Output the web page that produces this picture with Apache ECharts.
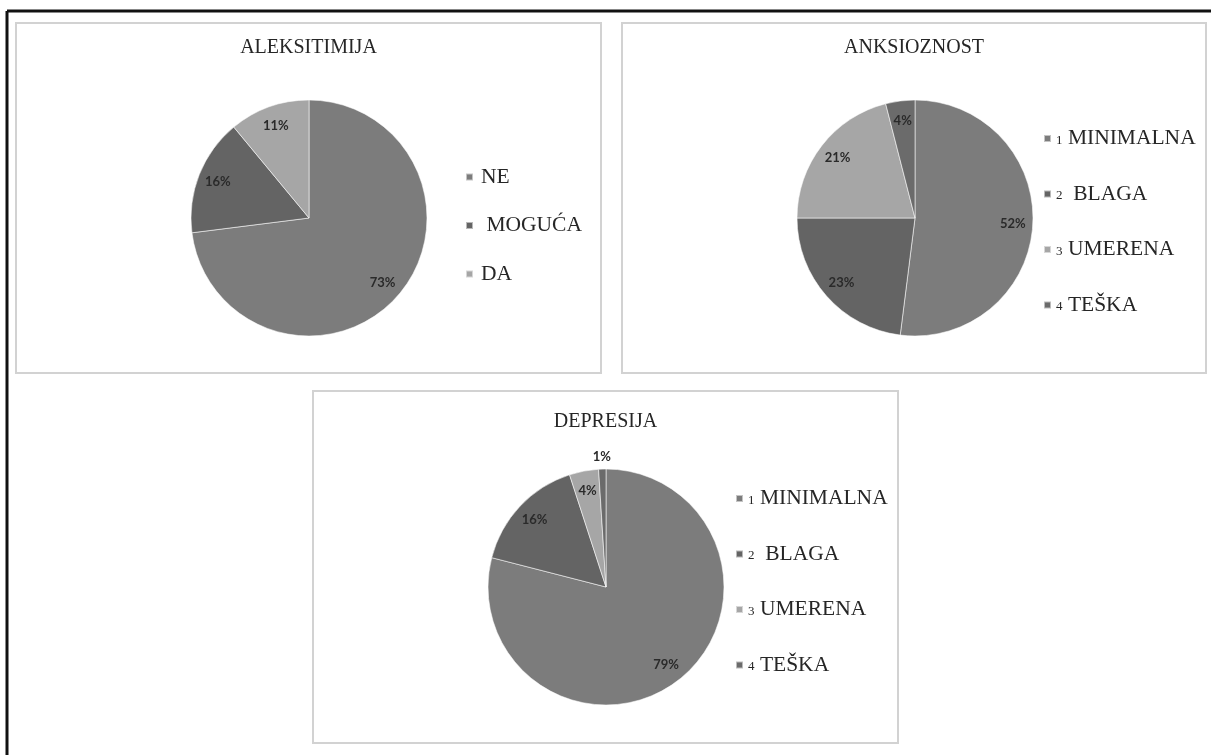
<!DOCTYPE html>
<html>
<head>
<meta charset="utf-8">
<script src="https://cdn.jsdelivr.net/npm/echarts@6/dist/echarts.min.js"></script>
<style>
  html, body { margin: 0; padding: 0; background: #ffffff; }
  #chart { width: 1211px; height: 755px; }
</style>
</head>
<body>
<div id="chart"></div>
<script>
// Chart titles
const chartTitles = ['ALEKSITIMIJA', 'ANKSIOZNOST', 'DEPRESIJA'];

// Alexithymia shares (%)
const aleksCategories = ['NE', ' MOGUĆA', 'DA'];
const aleksValues = [73, 16, 11];

// Severity levels shared by anxiety and depression
const severityCategories = ['1 MINIMALNA', '2  BLAGA', '3 UMERENA', '4 TEŠKA'];
const anksValues = [52, 23, 21, 4];
const depresValues = [79, 16, 4, 1];

// Slice colours
const aleksColors = ['#7c7c7c', '#646464', '#a6a6a6'];
const severityColors = ['#7c7c7c', '#646464', '#a6a6a6', '#6b6b6b'];

const SERIF = '"Liberation Serif", "DejaVu Serif", serif';
const LABEL_FONT = 'Lato, "Open Sans", sans-serif';
const TEXT_COLOR = '#262626';
const LEGEND_SIZE = 21.5;
const PIE_R = 118;
const LABEL_R = 190;          // labels sit at half of this radius
const SMALL_SHARE = 2;        // slices below this get their label outside

const panels = [
  { title: chartTitles[0], cats: aleksCategories, vals: aleksValues, colors: aleksColors,
    box: [16, 23, 585, 350], center: [309, 218], titleTop: 38,
    legend: { left: 465, top: 166, gap: 26.5, rich: false } },
  { title: chartTitles[1], cats: severityCategories, vals: anksValues, colors: severityColors,
    box: [622, 23, 584, 350], center: [915, 218], titleTop: 38,
    legend: { left: 1043, top: 127.5, gap: 33.5, rich: true } },
  { title: chartTitles[2], cats: severityCategories, vals: depresValues, colors: severityColors,
    box: [313, 391, 585, 352], center: [606, 587], titleTop: 412,
    legend: { left: 735, top: 487.5, gap: 33.5, rich: true } }
];

const labelText = {
  fontFamily: LABEL_FONT, fontWeight: 'bold', fontSize: 13, color: '#2a2a2a'
};

const titles = [], legends = [], series = [], graphics = [];

// outer frame
graphics.push({ type: 'line', shape: { x1: 7, y1: 11, x2: 1211, y2: 11 },
  style: { stroke: '#111', lineWidth: 3 }, silent: true });
graphics.push({ type: 'line', shape: { x1: 7, y1: 11, x2: 7, y2: 755 },
  style: { stroke: '#111', lineWidth: 3 }, silent: true });

panels.forEach(function (p, i) {
  graphics.push({
    type: 'rect',
    shape: { x: p.box[0], y: p.box[1], width: p.box[2], height: p.box[3] },
    style: { fill: '#fff', stroke: '#d2d2d2', lineWidth: 2 },
    silent: true, z: -10
  });

  titles.push({
    text: p.title,
    left: p.box[0] + p.box[2] / 2,
    top: p.titleTop,
    textAlign: 'center',
    padding: 0,
    textStyle: { fontFamily: SERIF, fontWeight: 'normal', fontSize: 20, color: TEXT_COLOR }
  });

  const legendOpt = {
    orient: 'vertical',
    left: p.legend.left,
    top: p.legend.top,
    padding: 0,
    itemGap: p.legend.gap,
    itemWidth: 7,
    itemHeight: 7,
    icon: 'rect',
    selectedMode: false,
    data: p.cats,
    textStyle: { fontFamily: SERIF, fontSize: LEGEND_SIZE, color: TEXT_COLOR, padding: [0, 0, 0, 3] }
  };
  if (p.legend.rich) {
    legendOpt.formatter = function (name) {
      const k = name.indexOf(' ');
      return '{n|' + name.slice(0, k) + '}{t|' + name.slice(k) + '}';
    };
    legendOpt.textStyle.padding = 0;
    legendOpt.textStyle.rich = {
      n: { fontFamily: SERIF, fontSize: 13, color: TEXT_COLOR, padding: [4, 0, 0, 0] },
      t: { fontFamily: SERIF, fontSize: LEGEND_SIZE, color: TEXT_COLOR }
    };
  }
  legends.push(legendOpt);

  // visible slices; tiny slices carry their own outside label
  series.push({
    type: 'pie',
    name: p.title,
    center: p.center,
    radius: [0, PIE_R],
    startAngle: 90,
    clockwise: true,
    silent: true,
    label: { show: false },
    labelLine: { show: false },
    labelLayout: { align: 'center' },
    itemStyle: { borderColor: 'rgba(255,255,255,0.55)', borderWidth: 1 },
    data: p.cats.map(function (c, j) {
      const item = { name: c, value: p.vals[j], itemStyle: { color: p.colors[j] } };
      if (p.vals[j] < SMALL_SHARE) {
        item.label = Object.assign({ show: true, position: 'outside', formatter: '{c}%',
          distanceToLabelLine: 0 }, labelText);
        item.labelLine = { show: false, length: 12, length2: 0 };
      }
      return item;
    })
  });

  // percentage labels for the remaining slices
  series.push({
    type: 'pie',
    name: p.title + ' labels',
    center: p.center,
    radius: [0, LABEL_R],
    startAngle: 90,
    clockwise: true,
    silent: true,
    itemStyle: { color: 'rgba(0,0,0,0)', borderWidth: 0 },
    label: Object.assign({ show: true, position: 'inside', formatter: '{c}%' }, labelText),
    labelLine: { show: false },
    z: 3,
    data: p.cats.map(function (c, j) {
      const item = { name: c, value: p.vals[j] };
      if (p.vals[j] < SMALL_SHARE) item.label = { show: false };
      return item;
    })
  });
});

const chart = echarts.init(document.getElementById('chart'), null, { renderer: 'canvas' });
chart.setOption({
  backgroundColor: '#ffffff',
  animation: false,
  title: titles,
  legend: legends,
  graphic: graphics,
  series: series
});
</script>
</body>
</html>
